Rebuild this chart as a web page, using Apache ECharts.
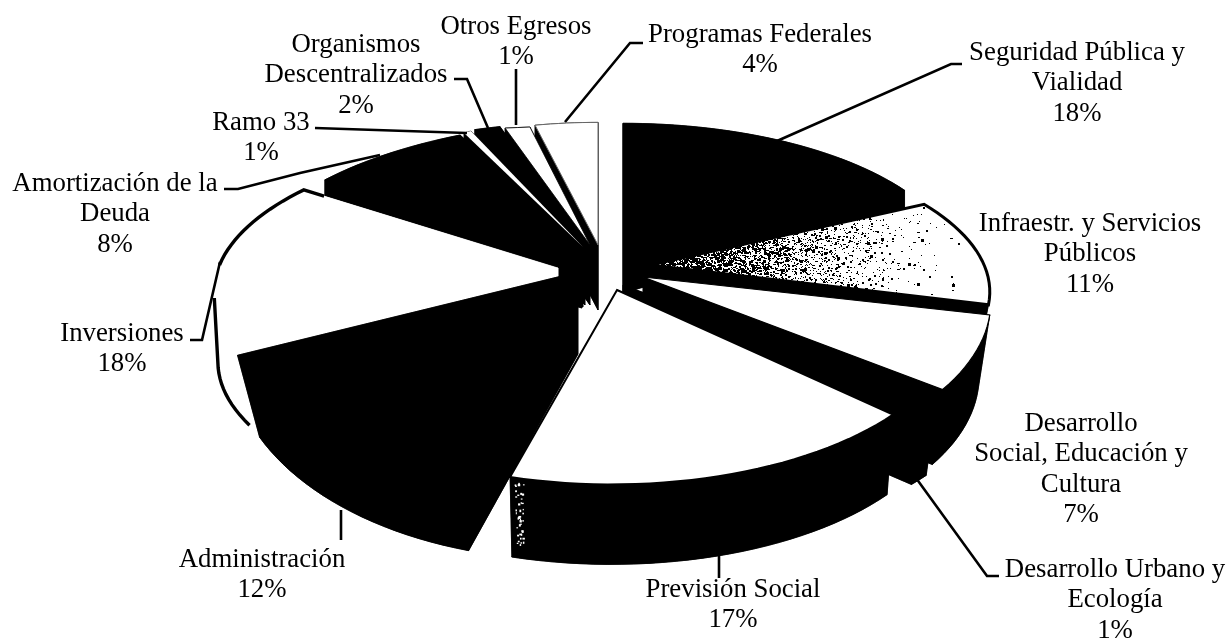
<!DOCTYPE html>
<html><head><meta charset="utf-8">
<style>html,body{margin:0;padding:0;background:#fff}#c{width:1229px;height:639px}</style>
<script src="https://cdn.jsdelivr.net/npm/echarts@6/dist/echarts.min.js"></script>
</head><body><div id="c"></div>
<script>
// ---- data, clockwise from twelve o'clock ----
const categories = ['Seguridad Pública y Vialidad','Infraestr. y Servicios Públicos','Desarrollo Social, Educación y Cultura','Desarrollo Urbano y Ecología','Previsión Social','Administración','Inversiones','Amortización de la Deuda','Ramo 33','Organismos Descentralizados','Otros Egresos','Programas Federales'];
const values = [18,11,7,1,17,12,18,8,1,2,1,4];
const labelLines = [['Seguridad Pública y','Vialidad'],['Infraestr. y Servicios','Públicos'],['Desarrollo','Social, Educación y','Cultura'],['Desarrollo Urbano y','Ecología'],['Previsión Social'],['Administración'],['Inversiones'],['Amortización de la','Deuda'],['Ramo 33'],['Organismos','Descentralizados'],['Otros Egresos'],['Programas Federales']];

// ---- layout: the tilted disc, then how each exploded slice sits relative to it ----
const CX=600, CY=265, RX=388, RY=153, PERSP=0.17;
const paintOrder=[11,10,9,8,7,0,1,6,2,3,5,4];
//            Seg    Inf  DSoc  DUrb  Prev   Adm   Inv   Amo   R33   Org   Otr   Prog
const stretchX=[.86,.99, .825,   1, .879, .943,  .96, .983,  .35,  .63, 1.22,  .76];
const stretchY=[.957,  1, 1.07,   1, 1.06,  1.3,    1, 1.08,   .6,  .57,  .55,   .8];
const shiftX  =[23,    0,   66,   1, 11.6,-22.6,   -8,   20,  -79,  -35,   31,   -2];
const shiftY  =[-16.6, 0,  7.5,  26,   24,  -27,    0,   -4,  -62,  -67,  -68,  -38];
const apexX   =[23,   50,   43,  23,   17,  -22,  -42,  -18,  -17,  -15,  -10,   -2];
const apexY   =[6,     0,   12,  20,   25,    7,    3,  -17,  -18,  -20,  -20,  -20];
const depth   =[22,   60,   75,  75,   80,   82,   70,   60,   60,   60,   60,   65];
const shrink  =[1,   .97,  .97, .97,  .98, .905,  .99,    1,    1,    1,    1,    1];
const shrinkAt=[600, 600,  600, 600,  600,  470,  600,  600,  600,  600,  600,  600];
const topFill =['#000','stipple','#fff','#000','#fff','#000','#fff','#000','#fff','#000','#fff','#fff'];
const wallFill=['#000','#000','#000','#000','speck','#000','#fff','#000','#000','#000','#000','#000'];
const topLine =[0,3,1.2,0,2,0,0,0,0,0,.8,1];
const topLineColor=['#000','#000','#000','#000','#000','#000','#000','#000','#000','#000','#000','#666'];

const labelX=[1077,1090,1081,1115,733,262,122,115,261,356,516,760];
const labelY=[53,224,424,570,590,560,334,184,123,45,27,35];
const lineGap=30.3;
const leaders=[[[962,64],[951,64],[777,141]],null,null,[[999,576],[987,576],[916,478]],[[719,553],[719,578]],[[341,510],[341,540]],[[190,340],[202,340],[220,262]],[[224,189],[238,189],[300,173],[380,155]],[[315,128],[467,133]],[[454,79],[467,79],[488,128]],[[516,69],[516,125]],[[643,43],[630,43],[565,122]]];

// ---- print-grain textures (fixed congruential sequence, not data) ----
let seed=12345; const next=()=>(seed=(seed*16807)%2147483647)/2147483647;
function makeCanvas(bg){const c=document.createElement('canvas');c.width=1229;c.height=639;const g=c.getContext('2d');g.fillStyle=bg;g.fillRect(0,0,1229,639);return [c,g];}
const [stippleC,sg]=makeCanvas('#fff'); sg.fillStyle='#000';
for(let i=0;i<42000;i++){const x=650+next()*340,y=205+next()*105,t=(x-650)/340;
  if(next()<Math.pow(1-t,2.7)*0.8){const s=next()<.06?3:(next()<.3?2:1);sg.fillRect(Math.round(x),Math.round(y),s,next()<.5?s:1);}}
const [speckC,wg]=makeCanvas('#000'); wg.fillStyle='#fff';
for(let i=0;i<40;i++){wg.fillRect(514+next()*9,482+next()*68,1+next()*1.5,1+next()*1.5);}
const fillOf=f=>f==='stipple'?{image:stippleC,repeat:'no-repeat'}:f==='speck'?{image:speckC,repeat:'no-repeat'}:f;

// ---- geometry from the values ----
const total=values.reduce((a,b)=>a+b,0);
const startPct=[]; values.reduce((a,v,i)=>(startPct[i]=a,a+v),0);
function discPoint(i,deg){const r=deg*Math.PI/180,s=1/(1+PERSP*Math.cos(r));
  return [CX+stretchX[i]*RX*Math.sin(r)*s+shiftX[i], CY-stretchY[i]*RY*Math.cos(r)*s+shiftY[i]];}
function arc(i,a,b){const n=Math.max(2,Math.ceil(Math.abs(b-a)/2)+1),o=[];for(let k=0;k<n;k++)o.push(discPoint(i,a+(b-a)*k/(n-1)));return o;}
const drop=(i,p)=>[shrinkAt[i]+(p[0]-shrinkAt[i])*shrink[i],p[1]+depth[i]];

function renderSlice(params,api){
  const i=api.value(0), a0=startPct[i]/total*360, a1=(startPct[i]+api.value(1))/total*360;
  const apex=[CX+apexX[i],CY+apexY[i]], apexLow=[apex[0],apex[1]+depth[i]];
  const top=arc(i,a0,a1), low=top.map(p=>drop(i,p));
  const wf=fillOf(wallFill[i]), wallStroke=typeof wf==='string'?wf:'#000';
  const wall=pts=>({type:'polygon',shape:{points:pts},style:{fill:wf,stroke:wallStroke,lineWidth:.6}});
  const kids=[
    wall([apexLow,...low]),
    wall([apex,top[0],low[0],apexLow]),
    wall([apex,top[top.length-1],low[low.length-1],apexLow]),
    wall([...top,...low.slice().reverse()]),
    {type:'polygon',shape:{points:[apex,...top]},style:{fill:fillOf(topFill[i]),stroke:topLine[i]?topLineColor[i]:(topFill[i]==='#000'?'#000':null),lineWidth:topLine[i]||.6}}
  ];
  if(categories[i]==='Inversiones'){
    const line={stroke:'#000',lineWidth:3.4,fill:null};
    const upper=arc(i,a1,270), e=upper[0];
    upper.unshift([e[0]+(apex[0]-e[0])*.08,e[1]+(apex[1]-e[1])*.08]);
    kids.push({type:'polyline',shape:{points:upper},style:line});
    const t=discPoint(i,258);
    kids.push({type:'polyline',shape:{points:[t,...arc(i,258,a0).map(p=>drop(i,p))]},style:line});
  }
  return {type:'group',children:kids};
}
function renderLabel(params,api){
  const i=api.value(0), lines=labelLines[i].concat(values[i]+'%'), kids=[];
  lines.forEach((t,k)=>kids.push({type:'text',style:{text:t,x:labelX[i],y:labelY[i]+k*lineGap,fill:'#000',font:'26.8px "Liberation Serif"',textAlign:'center',textVerticalAlign:'middle'}}));
  if(leaders[i])kids.push({type:'polyline',shape:{points:leaders[i]},style:{stroke:'#000',lineWidth:2.6,fill:null}});
  return {type:'group',children:kids};
}
const chart=echarts.init(document.getElementById('c'),null,{renderer:'canvas'});
chart.setOption({
  animation:false,backgroundColor:'#fff',
  series:[
    {type:'custom',coordinateSystem:'none',silent:true,z:2,renderItem:renderSlice,data:paintOrder.map(i=>[i,values[i]])},
    {type:'custom',coordinateSystem:'none',silent:true,z:3,renderItem:renderLabel,data:values.map((v,i)=>[i,v])}
  ]
});
</script></body></html>
